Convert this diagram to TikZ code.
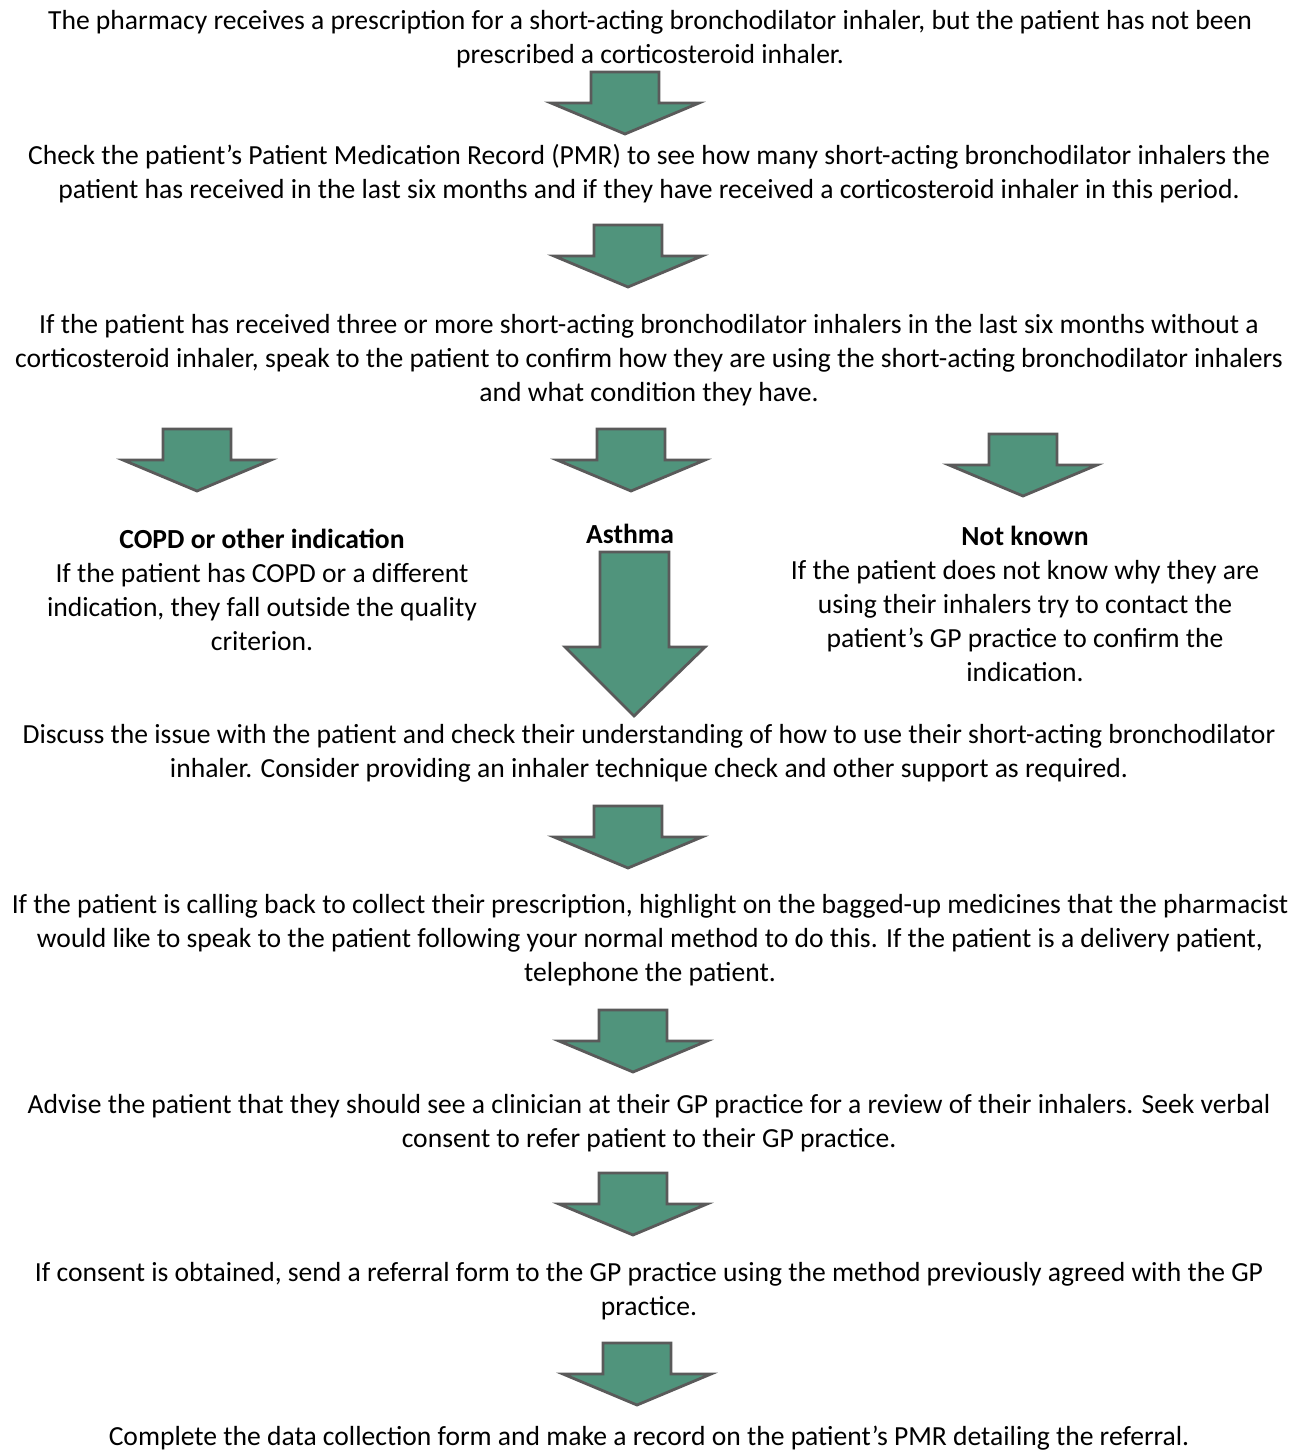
\documentclass[tikz,border=0pt]{standalone}
\usepackage{fontspec}
\setmainfont{Carlito}
\usepackage{xcolor}
\definecolor{arrowgreen}{RGB}{80,148,124}
\definecolor{arrowgray}{RGB}{90,90,90}
\tikzset{
  steptext/.style={align=center, inner sep=0pt, font=\fontsize{13.8}{17}\selectfont},
  blockarrow/.pic={
    \draw[line width=1.4pt, arrowgray, fill=arrowgreen, line join=miter]
      (-34,0) -- (34,0) -- (34,31) -- (74,31) -- (0,62) -- (-74,31) -- (-34,31) -- cycle;
  }
}
\begin{document}
\begin{tikzpicture}[x=0.5pt, y=-0.5pt]
            \useasboundingbox (0,0) rectangle (1301,1454);
            \node[steptext] (received) at (650,39) {The pharmacy receives a prescription for a short-acting bronchodilator inhaler, but the patient has not been\\prescribed a corticosteroid inhaler.};
            \pic at (625,72) {blockarrow};
            \node[steptext] (checkpmr) at (649,174) {Check the patient’s Patient Medication Record (PMR) to see how many short-acting bronchodilator inhalers the\\patient has received in the last six months and if they have received a corticosteroid inhaler in this period.};
            \pic at (628,225) {blockarrow};
            \node[steptext] (threeormore) at (649,360) {If the patient has received three or more short-acting bronchodilator inhalers in the last six months without a\\corticosteroid inhaler, speak to the patient to confirm how they are using the short-acting bronchodilator inhalers\\and what condition they have.};
            \pic at (197,429) {blockarrow};
            \pic at (631,429) {blockarrow};
            \pic at (1023,434) {blockarrow};
            \node[steptext] (copd) at (262,590) {\textbf{COPD or other indication}\\If the patient has COPD or a different\\indication, they fall outside the quality\\criterion.};
            \node[steptext] (asthma) at (630,534) {\textbf{Asthma}};
            \node[steptext] (notknown) at (1025,604) {\textbf{Not known}\\If the patient does not know why they are\\using their inhalers try to contact the\\patient’s GP practice to confirm the\\indication.};
            % long arrow under Asthma
            \draw[line width=1.4pt, arrowgray, fill=arrowgreen, line join=miter]
              (600,552) -- (669,552) -- (669,647) -- (705,647) -- (634,716) -- (565,647) -- (600,647) -- cycle;
            \node[steptext] (discuss) at (649,753) {Discuss the issue with the patient and check their understanding of how to use their short-acting bronchodilator\\inhaler. Consider providing an inhaler technique check and other support as required.};
            \pic at (628,806) {blockarrow};
            \node[steptext] (callback) at (650,940) {If the patient is calling back to collect their prescription, highlight on the bagged-up medicines that the pharmacist\\would like to speak to the patient following your normal method to do this. If the patient is a delivery patient,\\telephone the patient.};
            \pic at (633,1010) {blockarrow};
            \node[steptext] (advise) at (649,1123) {Advise the patient that they should see a clinician at their GP practice for a review of their inhalers. Seek verbal\\consent to refer patient to their GP practice.};
            \pic at (633,1173) {blockarrow};
            \node[steptext] (consent) at (649,1291) {If consent is obtained, send a referral form to the GP practice using the method previously agreed with the GP\\practice.};
            \pic at (637,1343) {blockarrow};
            \node[steptext] (record) at (649,1438) {Complete the data collection form and make a record on the patient’s PMR detailing the referral.};
        \end{tikzpicture}
\end{document}
